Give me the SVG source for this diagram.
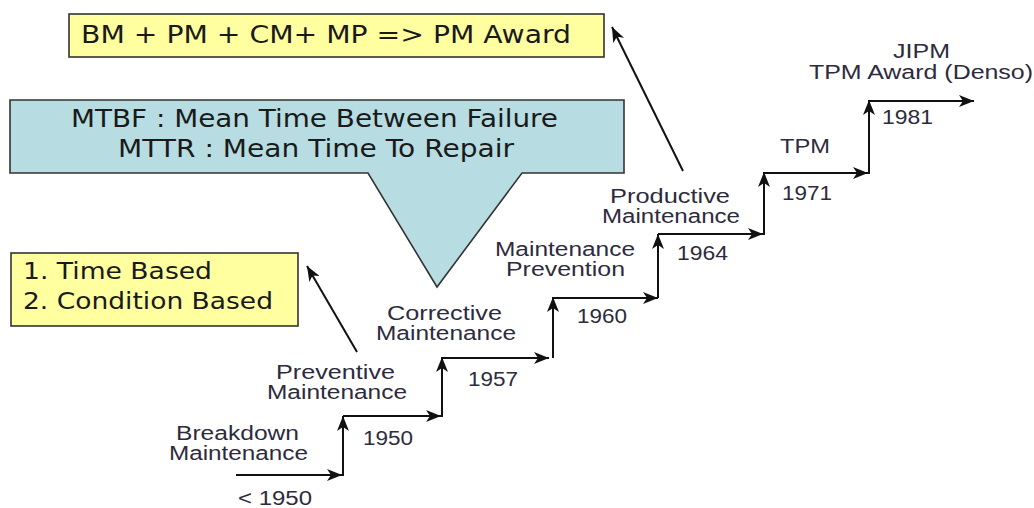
<svg xmlns="http://www.w3.org/2000/svg" width="1034" height="508" viewBox="0 0 1034 508">
<defs>
<marker id="ah" markerUnits="userSpaceOnUse" markerWidth="16" markerHeight="12" viewBox="0 0 16 12" refX="15" refY="6" orient="auto">
<path d="M0,0 L15,6 L0,12 L4,6 z" fill="#111"/>
</marker>
<style>
.box{fill:#ffffa0;stroke:#333;stroke-width:1.6}
.call{fill:#b7dde2;stroke:#333;stroke-width:1.6}
.bt{font-family:"DejaVu Sans",Verdana,sans-serif;fill:#1a1a1a}
.lb{font-family:"Liberation Sans",Arial,sans-serif;font-size:20px;fill:#2d2b3d}
.ar{stroke:#111;stroke-width:2;fill:none;marker-end:url(#ah)}
</style>
</defs>
<rect width="1034" height="508" fill="#fff"/>
<g id="award-box">
<rect class="box" x="69" y="14" width="535" height="43"/>
<text class="bt" x="81" y="43" font-size="25" textLength="490" lengthAdjust="spacingAndGlyphs">BM + PM + CM+ MP =&gt; PM Award</text>
</g>
<g id="mtbf-callout">
<path class="call" d="M10,100 H624 V173 H522 L437,287 L368,173 H10 Z"/>
<text class="bt" x="71" y="127" font-size="24" textLength="487" lengthAdjust="spacingAndGlyphs">MTBF : Mean Time Between Failure</text>
<text class="bt" x="118" y="157" font-size="24" textLength="396" lengthAdjust="spacingAndGlyphs">MTTR : Mean Time To Repair</text>
</g>
<g id="pm-types-box">
<rect class="box" x="11" y="253" width="287" height="73"/>
<text class="bt" x="23" y="279" font-size="23" textLength="189" lengthAdjust="spacingAndGlyphs">1. Time Based</text>
<text class="bt" x="23" y="309" font-size="23" textLength="250" lengthAdjust="spacingAndGlyphs">2. Condition Based</text>
</g>
<g id="bm">
<text class="lb" x="176" y="440" textLength="123" lengthAdjust="spacingAndGlyphs">Breakdown</text>
<text class="lb" x="169" y="460" textLength="139" lengthAdjust="spacingAndGlyphs">Maintenance</text>
<text class="lb" x="238" y="505" textLength="74" lengthAdjust="spacingAndGlyphs">&lt; 1950</text>
</g>
<g id="pm">
<text class="lb" x="276" y="379" textLength="119" lengthAdjust="spacingAndGlyphs">Preventive</text>
<text class="lb" x="267" y="399" textLength="140" lengthAdjust="spacingAndGlyphs">Maintenance</text>
<text class="lb" x="363" y="445" textLength="50" lengthAdjust="spacingAndGlyphs">1950</text>
</g>
<g id="cm">
<text class="lb" x="387" y="320" textLength="115" lengthAdjust="spacingAndGlyphs">Corrective</text>
<text class="lb" x="376" y="340" textLength="140" lengthAdjust="spacingAndGlyphs">Maintenance</text>
<text class="lb" x="468" y="386" textLength="50" lengthAdjust="spacingAndGlyphs">1957</text>
</g>
<g id="mp">
<text class="lb" x="495" y="256" textLength="140" lengthAdjust="spacingAndGlyphs">Maintenance</text>
<text class="lb" x="506" y="276" textLength="119" lengthAdjust="spacingAndGlyphs">Prevention</text>
<text class="lb" x="577" y="323" textLength="50" lengthAdjust="spacingAndGlyphs">1960</text>
</g>
<g id="prod-m">
<text class="lb" x="610" y="203" textLength="120" lengthAdjust="spacingAndGlyphs">Productive</text>
<text class="lb" x="602" y="223" textLength="138" lengthAdjust="spacingAndGlyphs">Maintenance</text>
<text class="lb" x="677" y="260" textLength="51" lengthAdjust="spacingAndGlyphs">1964</text>
</g>
<g id="tpm">
<text class="lb" x="780" y="153" textLength="50" lengthAdjust="spacingAndGlyphs">TPM</text>
<text class="lb" x="782" y="200" textLength="50" lengthAdjust="spacingAndGlyphs">1971</text>
</g>
<g id="jipm">
<text class="lb" x="893" y="58" textLength="57" lengthAdjust="spacingAndGlyphs">JIPM</text>
<text class="lb" x="809" y="79" textLength="224" lengthAdjust="spacingAndGlyphs">TPM Award (Denso)</text>
<text class="lb" x="882" y="124" textLength="51" lengthAdjust="spacingAndGlyphs">1981</text>
</g>
<g id="connectors">
<line class="ar" x1="236" y1="475" x2="342" y2="475"/>
<line class="ar" x1="343" y1="476" x2="343" y2="416"/>
<line class="ar" x1="343" y1="416" x2="441" y2="416"/>
<line class="ar" x1="442" y1="417" x2="442" y2="357"/>
<line class="ar" x1="442" y1="358" x2="549" y2="358"/>
<line class="ar" x1="553" y1="358" x2="553" y2="297"/>
<line class="ar" x1="553" y1="298" x2="658" y2="298"/>
<line class="ar" x1="658" y1="298" x2="658" y2="234"/>
<line class="ar" x1="658" y1="234" x2="763" y2="234"/>
<line class="ar" x1="764" y1="235" x2="764" y2="172"/>
<line class="ar" x1="765" y1="173" x2="868" y2="173"/>
<line class="ar" x1="869" y1="174" x2="869" y2="100"/>
<line class="ar" x1="869" y1="101" x2="974" y2="101"/>
<line class="ar" x1="683" y1="171" x2="612" y2="27"/>
<line class="ar" x1="357" y1="352" x2="307" y2="266"/>
</g>
</svg>
